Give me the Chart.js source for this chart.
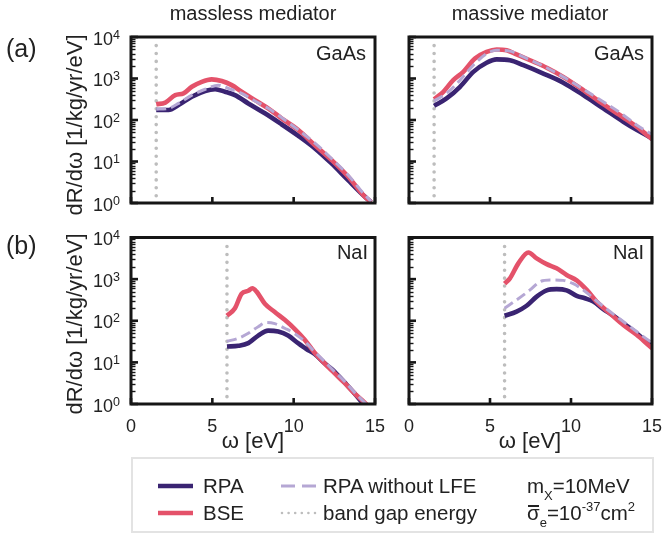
<!DOCTYPE html>
<html><head><meta charset="utf-8">
<script src="https://cdn.jsdelivr.net/npm/chart.js@4/dist/chart.umd.min.js"></script>
<style>
body{margin:0;width:664px;height:534px;position:relative;background:#fff;font-family:"Liberation Sans",Arial,sans-serif;color:#222;overflow:hidden}
canvas.p{position:absolute;left:0;top:0}
.t{position:absolute;white-space:nowrap;line-height:1}
sub,sup{line-height:0}
</style></head><body>
<script>
// ---------- data ----------
const xTickValues = [0, 5, 10, 15];
const yTickExponents = [0, 1, 2, 3, 4];
const gapGaAs = 1.55;
const gapNaI = 5.9;

// massless mediator, GaAs
const mlGaAsRpaX = [1.55, 2.31, 2.92, 3.74, 4.56, 5.17, 5.78, 6.39, 7.21, 8.23, 9.25, 10.27, 11.29, 12.31, 13.33, 14.35, 14.76];
const mlGaAsRpaY = [174, 174, 229, 363, 501, 550, 479, 398, 251, 145, 79, 42, 21, 9.1, 3.6, 1.45, 1.05];
const mlGaAsBseX = [1.55, 2.11, 2.72, 3.23, 3.74, 4.35, 4.96, 5.58, 6.19, 6.80, 7.62, 8.43, 9.25, 10.27, 11.29, 12.31, 13.33, 14.35, 14.76];
const mlGaAsBseY = [240, 263, 398, 437, 631, 832, 955, 871, 692, 479, 302, 191, 110, 58, 25, 11, 4.4, 1.45, 1.05];
const mlGaAsLfeX = [1.55, 2.31, 2.92, 3.74, 4.56, 5.37, 5.99, 6.80, 7.62, 8.43, 9.25, 10.27, 11.29, 12.31, 13.33, 14.35, 14.76];
const mlGaAsLfeY = [182, 191, 251, 398, 550, 692, 575, 437, 288, 191, 115, 58, 28, 12, 4.8, 1.6, 1.1];

// massive mediator, GaAs
const mvGaAsRpaX = [1.55, 2.32, 3.15, 3.97, 4.79, 5.41, 6.23, 7.06, 8.29, 9.52, 10.76, 11.99, 13.23, 14.05, 14.88, 15];
const mvGaAsRpaY = [219, 331, 631, 1445, 2399, 2884, 2754, 2089, 1318, 794, 398, 191, 91, 58, 38, 35];
const mvGaAsBseX = [1.55, 2.12, 2.73, 3.35, 4.07, 4.79, 5.41, 6.03, 6.64, 7.47, 8.50, 9.52, 10.76, 11.99, 13.23, 14.05, 14.88, 15];
const mvGaAsBseY = [316, 479, 912, 1445, 3020, 4365, 5012, 4786, 3802, 2754, 1820, 1096, 525, 240, 115, 69, 38, 35];
const mvGaAsLfeX = [1.55, 2.32, 3.15, 3.97, 4.79, 5.41, 6.23, 7.06, 8.29, 9.52, 10.76, 11.99, 13.23, 14.05, 14.88, 15];
const mvGaAsLfeY = [288, 437, 912, 2089, 3981, 4786, 4571, 3311, 1995, 1096, 550, 275, 132, 76, 48, 45];

// massless mediator, NaI
const mlNaIRpaX = [5.9, 6.60, 7.21, 7.82, 8.43, 9.05, 9.66, 10.27, 10.78, 11.29, 11.90, 12.51, 13.13, 13.74, 14.15, 14.4];
const mlNaIRpaY = [24, 25, 29, 44, 58, 55, 44, 29, 21, 16, 9.5, 6.0, 3.3, 1.8, 1.15, 0.9];
const mlNaIBseX = [5.9, 6.39, 6.80, 7.21, 7.46, 7.72, 8.23, 8.84, 9.45, 10.07, 10.68, 11.29, 11.90, 12.51, 13.13, 13.74, 14.35, 14.5];
const mlNaIBseY = [132, 200, 447, 525, 603, 501, 257, 162, 105, 63, 35, 17, 9.5, 5.5, 3.2, 1.8, 1.1, 0.95];
const mlNaILfeX = [5.9, 6.60, 7.21, 7.82, 8.33, 8.84, 9.45, 10.07, 10.68, 11.29, 11.90, 12.51, 13.13, 13.74, 14.35, 14.5];
const mlNaILfeY = [32, 38, 50, 72, 91, 85, 66, 49, 32, 18, 10.5, 6.0, 3.5, 1.9, 1.1, 0.95];

// massive mediator, NaI
const mvNaIRpaX = [5.9, 6.64, 7.26, 7.88, 8.50, 9.11, 9.73, 10.35, 10.86, 11.38, 11.99, 12.61, 13.23, 14.05, 14.88, 15];
const mvNaIRpaY = [132, 166, 229, 380, 537, 575, 537, 398, 347, 288, 191, 132, 87, 50, 26, 24];
const mvNaIBseX = [5.9, 6.23, 6.75, 7.37, 7.88, 8.50, 9.11, 9.73, 10.35, 10.97, 11.58, 12.40, 13.23, 14.05, 14.88, 15];
const mvNaIBseY = [776, 1047, 2399, 4365, 3162, 2291, 1820, 1259, 933, 550, 288, 151, 79, 46, 24, 22];
const mvNaILfeX = [5.9, 6.64, 7.47, 8.09, 8.70, 9.52, 10.14, 10.76, 11.38, 12.20, 13.02, 14.05, 14.88, 15];
const mvNaILfeY = [200, 316, 550, 871, 955, 933, 776, 550, 347, 191, 110, 55, 32, 30];

// ---------- styles ----------
const C_RPA = '#3a2472';
const C_BSE = '#e4526a';
const C_LFE = '#b5a7d4';
const C_GAP = '#bdbdbd';
const FONT = '"Liberation Sans", Arial, sans-serif';

const pts = (xs, ys) => xs.map((x, i) => ({x, y: ys[i]}));

const framePlugin = {
  id: 'frame',
  afterDraw(chart, args, o) {
    const {ctx, chartArea: a, scales: {x, y}} = chart;
    ctx.save();
    ctx.strokeStyle = '#161616';
    ctx.lineWidth = 1.4;
    for (let e = yTickExponents[0]; e < yTickExponents[yTickExponents.length - 1]; e++) {
      for (let m = 2; m <= 9; m++) {
        const py = Math.round(y.getPixelForValue(m * Math.pow(10, e))) + 0.5;
        ctx.beginPath(); ctx.moveTo(a.left, py); ctx.lineTo(a.left + 4.5, py); ctx.stroke();
      }
    }
    ctx.lineWidth = 2.6;
    yTickExponents.forEach(e => {
      const py = y.getPixelForValue(Math.pow(10, e));
      ctx.beginPath(); ctx.moveTo(a.left, py); ctx.lineTo(a.left + 7, py); ctx.stroke();
    });
    xTickValues.forEach(v => {
      const px = x.getPixelForValue(v);
      ctx.beginPath(); ctx.moveTo(px, a.bottom); ctx.lineTo(px, a.bottom - 6); ctx.stroke();
    });
    ctx.lineWidth = 3;
    ctx.strokeRect(a.left, a.top, a.right - a.left, a.bottom - a.top);
    ctx.fillStyle = '#222';
    if (o.yLabels) {
      yTickExponents.forEach(e => {
        const py = y.getPixelForValue(Math.pow(10, e));
        ctx.font = '12.5px ' + FONT;
        ctx.textAlign = 'right'; ctx.textBaseline = 'alphabetic';
        const exp = String(e);
        const ew = ctx.measureText(exp).width;
        const rx = a.left - 11;
        ctx.fillText(exp, rx, py + 1.5);
        ctx.font = '18px ' + FONT;
        ctx.fillText('10', rx - ew, py + 7.5);
      });
    }
    if (o.xLabels) {
      ctx.font = '18px ' + FONT;
      ctx.textAlign = 'center'; ctx.textBaseline = 'alphabetic';
      xTickValues.forEach(v => {
        ctx.fillText(String(v), x.getPixelForValue(v), a.bottom + 28);
      });
    }
    ctx.restore();
  }
};

function makePanel(geom, rpa, bse, lfe, gap, flags) {
  const cv = document.createElement('canvas');
  cv.className = 'p'; cv.width = 664; cv.height = 534;
  document.body.appendChild(cv);
  const line = (data, color, w, dash) => ({
    data, borderColor: color, borderWidth: w, borderDash: dash || [],
    pointRadius: 0, fill: false, cubicInterpolationMode: 'monotone',
    borderJoinStyle: 'round', borderCapStyle: 'butt'
  });
  const gapSet = {
    data: [{x: gap, y: 1.5}, {x: gap, y: 7300}],
    borderColor: C_GAP, borderWidth: 3.6, borderDash: [0, 7.9],
    borderCapStyle: 'round', pointRadius: 0, fill: false
  };
  new Chart(cv, {
    type: 'line',
    data: {datasets: [
      line(lfe, C_LFE, 3, [10, 5]),
      line(bse, C_BSE, 4.6),
      line(rpa, C_RPA, 4.6),
      gapSet
    ]},
    options: {
      responsive: false, animation: false, events: [],
      layout: {padding: {left: geom.L, top: geom.T, right: 664 - geom.R, bottom: 534 - geom.B}},
      scales: {
        x: {type: 'linear', min: 0, max: 15, display: false},
        y: {type: 'logarithmic', min: 1, max: 10000, display: false}
      },
      plugins: {legend: {display: false}, tooltip: {enabled: false}, frame: flags}
    },
    plugins: [framePlugin]
  });
}

makePanel({L: 131, R: 375, T: 37, B: 203},
  pts(mlGaAsRpaX, mlGaAsRpaY), pts(mlGaAsBseX, mlGaAsBseY), pts(mlGaAsLfeX, mlGaAsLfeY), gapGaAs, {yLabels: true, xLabels: false});
makePanel({L: 409, R: 652, T: 37, B: 203},
  pts(mvGaAsRpaX, mvGaAsRpaY), pts(mvGaAsBseX, mvGaAsBseY), pts(mvGaAsLfeX, mvGaAsLfeY), gapGaAs, {yLabels: false, xLabels: false});
makePanel({L: 131, R: 375, T: 237.5, B: 404},
  pts(mlNaIRpaX, mlNaIRpaY), pts(mlNaIBseX, mlNaIBseY), pts(mlNaILfeX, mlNaILfeY), gapNaI, {yLabels: true, xLabels: true});
makePanel({L: 409, R: 652, T: 237.5, B: 404},
  pts(mvNaIRpaX, mvNaIRpaY), pts(mvNaIBseX, mvNaIBseY), pts(mvNaILfeX, mvNaILfeY), gapNaI, {yLabels: false, xLabels: true});
</script>

<!-- titles and labels -->
<div class="t" style="left:153px;top:3px;width:200px;text-align:center;font-size:20px">massless mediator</div>
<div class="t" style="left:430px;top:3px;width:200px;text-align:center;font-size:20px">massive mediator</div>
<div class="t" style="left:6px;top:36px;font-size:25px">(a)</div>
<div class="t" style="left:6px;top:233px;font-size:25px">(b)</div>
<div class="t" style="left:75px;top:125px;font-size:22px;transform:translate(-50%,-50%) rotate(-90deg)">dR/dω [1/kg/yr/eV]</div>
<div class="t" style="left:75px;top:324px;font-size:22px;transform:translate(-50%,-50%) rotate(-90deg)">dR/dω [1/kg/yr/eV]</div>
<div class="t" style="left:153px;top:430px;width:200px;text-align:center;font-size:22px">ω [eV]</div>
<div class="t" style="left:430px;top:430px;width:200px;text-align:center;font-size:22px">ω [eV]</div>
<div class="t" style="left:266px;top:43px;width:100px;text-align:right;font-size:20px">GaAs</div>
<div class="t" style="left:544px;top:43px;width:100px;text-align:right;font-size:20px">GaAs</div>
<div class="t" style="left:268px;top:242px;width:100px;text-align:right;font-size:20px">NaI</div>
<div class="t" style="left:544px;top:242px;width:100px;text-align:right;font-size:20px">NaI</div>

<!-- legend -->
<div style="position:absolute;left:131px;top:457px;width:523px;height:76px;box-sizing:border-box;border:2px solid #e3e3e3;background:#fff"></div>
<svg style="position:absolute;left:0;top:0" width="664" height="534">
  <line x1="158" y1="486" x2="193" y2="486" stroke="#3a2472" stroke-width="4.5"/>
  <line x1="158" y1="513" x2="193" y2="513" stroke="#e4526a" stroke-width="4.5"/>
  <line x1="281" y1="486" x2="316" y2="486" stroke="#b5a7d4" stroke-width="3" stroke-dasharray="14 7"/>
  <line x1="282" y1="513" x2="316" y2="513" stroke="#bdbdbd" stroke-width="2.6" stroke-dasharray="0 6.6" stroke-linecap="round"/>
</svg>
<div class="t" style="left:203px;top:476px;font-size:20.5px">RPA</div>
<div class="t" style="left:203px;top:503px;font-size:20.5px">BSE</div>
<div class="t" style="left:323px;top:476px;font-size:20.5px">RPA without LFE</div>
<div class="t" style="left:323px;top:503px;font-size:20.5px">band gap energy</div>
<div class="t" style="left:527px;top:476px;font-size:20.5px">m<sub style="font-size:13px;position:relative;top:2px">X</sub>=10MeV</div>
<div class="t" style="left:527px;top:503px;font-size:20.5px"><span style="position:relative;display:inline-block">σ<span style="position:absolute;left:1px;right:1px;top:2px;height:1.6px;background:#222"></span></span><sub style="font-size:13px;position:relative;top:2px">e</sub>=10<sup style="font-size:13px;position:relative;top:-1px">-37</sup>cm<sup style="font-size:13px;position:relative;top:-1px">2</sup></div>
</body></html>
